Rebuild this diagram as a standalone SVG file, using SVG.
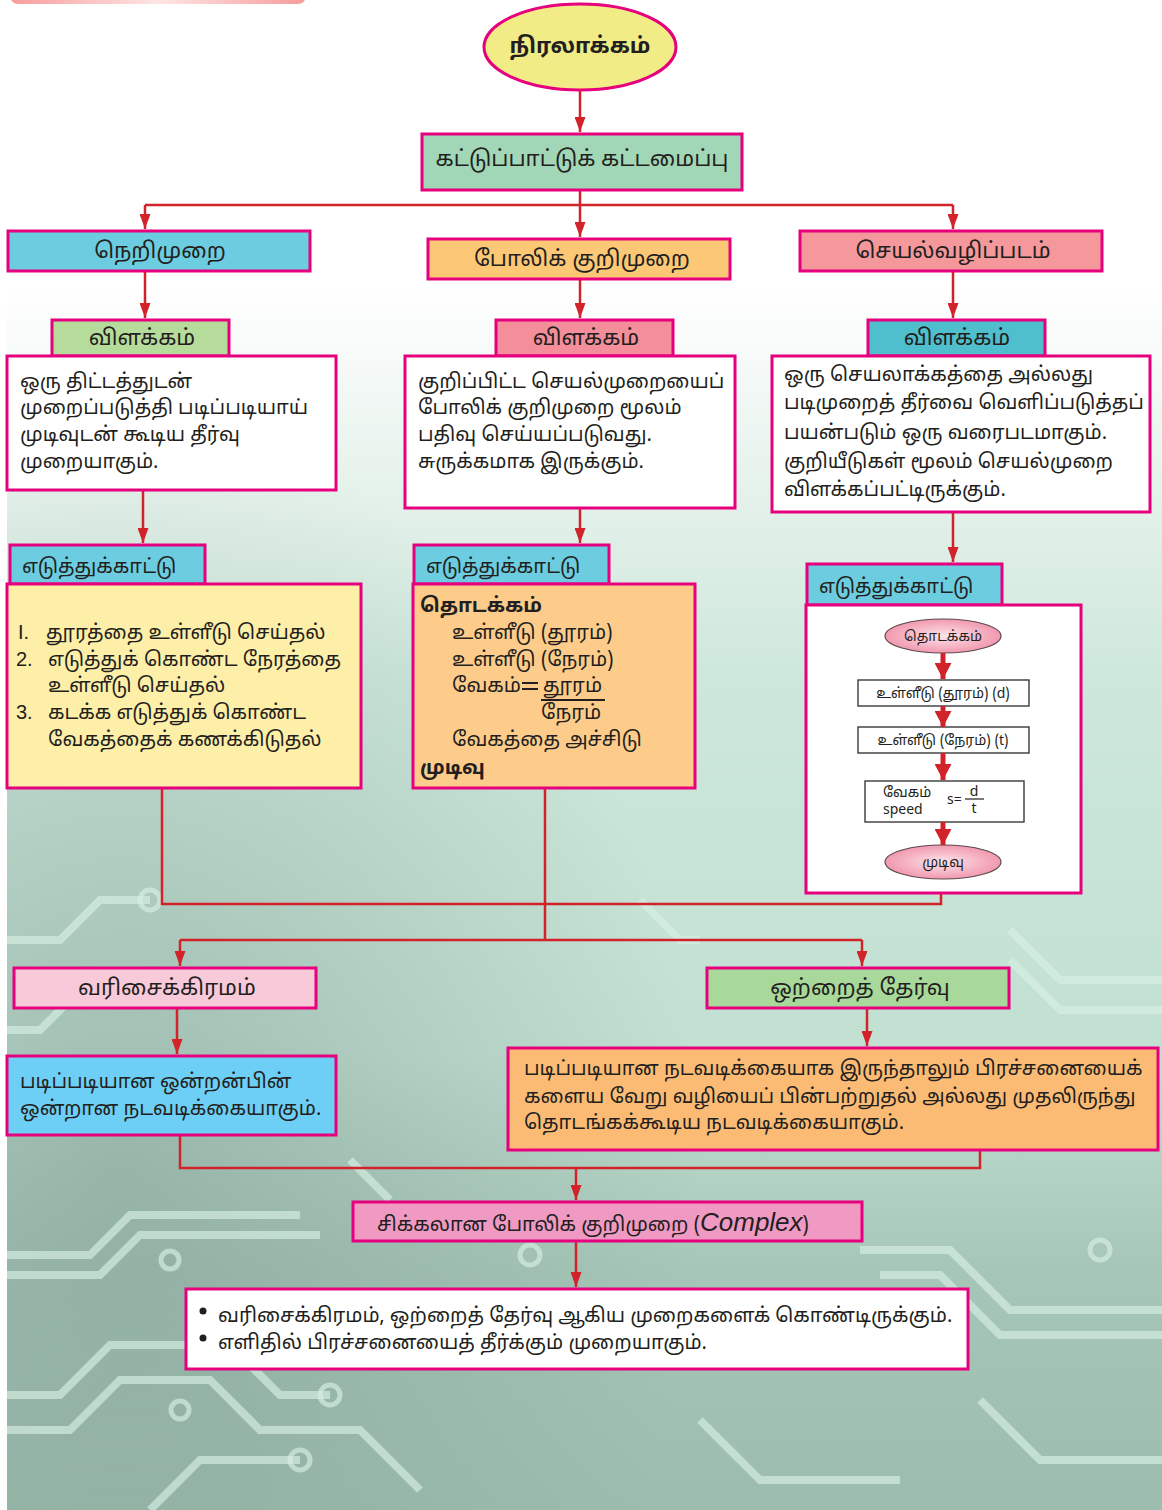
<svg xmlns="http://www.w3.org/2000/svg" width="1162" height="1510" viewBox="0 0 1162 1510">
  <defs>
    <linearGradient id="bg" x1="0" y1="0" x2="0" y2="1">
      <stop offset="0" stop-color="#ffffff"/>
      <stop offset="0.19" stop-color="#ffffff"/>
      <stop offset="0.32" stop-color="#e6f2ec"/>
      <stop offset="0.45" stop-color="#cde7db"/>
      <stop offset="0.7" stop-color="#c1e0d2"/>
      <stop offset="0.84" stop-color="#a6c6b8"/>
      <stop offset="1" stop-color="#9cbdae"/>
    </linearGradient>
    <radialGradient id="shade" cx="0.1" cy="0.78" r="0.5">
      <stop offset="0" stop-color="#7f9c91" stop-opacity="0.55"/>
      <stop offset="1" stop-color="#7f9c91" stop-opacity="0"/>
    </radialGradient>
    <linearGradient id="topbar" x1="0" y1="0" x2="1" y2="0">
      <stop offset="0" stop-color="#f79c9c"/>
      <stop offset="0.5" stop-color="#fde6e4"/>
      <stop offset="1" stop-color="#f79c9c"/>
    </linearGradient>
    <radialGradient id="pinkOval" cx="0.5" cy="0.5" r="0.6">
      <stop offset="0" stop-color="#fde3ea"/>
      <stop offset="1" stop-color="#ef8aa3"/>
    </radialGradient>
    <marker id="arr" viewBox="0 0 10 10" refX="10" refY="5" markerUnits="userSpaceOnUse" markerWidth="15" markerHeight="11" orient="auto" preserveAspectRatio="none">
      <path d="M0,0 L10,5 L0,10 z" fill="#d2232a"/>
    </marker>
    <marker id="arrBig" viewBox="0 0 10 10" refX="10" refY="5" markerUnits="userSpaceOnUse" markerWidth="16" markerHeight="17" orient="auto" preserveAspectRatio="none">
      <path d="M0,0 L10,5 L0,10 z" fill="#d2232a"/>
    </marker>
  </defs>
  <style>
    .box { stroke:#e6007e; stroke-width:3; }
    .thin { stroke:#3a3a3a; stroke-width:1.4; fill:#ffffff; }
    .t { font-family:"Noto Sans Tamil","Liberation Sans",sans-serif; fill:#231f20; font-size:20px; }
    .n { font-family:"Liberation Sans",sans-serif; fill:#231f20; font-size:20px; }
    .h { font-family:"Noto Sans Tamil","Liberation Sans",sans-serif; fill:#231f20; font-size:22px; text-anchor:middle; dominant-baseline:central; }
    .b { font-weight:bold; }
    .s { font-family:"Noto Sans Tamil","Liberation Sans",sans-serif; fill:#231f20; font-size:14px; }
    .link { stroke:#d2232a; stroke-width:2.5; fill:none; }
    .flow { stroke:#d2232a; stroke-width:5; fill:none; }
    .trace { stroke:#d7efe3; stroke-width:8; fill:none; stroke-opacity:0.65; }
    .pad { fill:none; stroke:#d7efe3; stroke-width:5; stroke-opacity:0.65; }
  </style>

  <!-- backdrop with circuit-board traces -->
  <rect x="0" y="0" width="1162" height="1510" fill="#ffffff"/>
  <rect x="7" y="0" width="1155" height="1510" fill="url(#bg)"/>
  <rect x="7" y="0" width="1155" height="1510" fill="url(#shade)"/>
  <g class="traces">
    <path class="trace" d="M7 1395 H60 L110 1345 H230 L280 1395 H330"/>
    <path class="trace" d="M7 1430 H70 L120 1380 H210 L260 1430 H360 L420 1490"/>
    <path class="trace" d="M150 1510 L200 1460 H300"/>
    <path class="trace" d="M7 1255 H90 L130 1215 H300"/>
    <path class="trace" d="M7 1275 H100 L140 1235 H320"/>
    <path class="trace" d="M860 1250 H950 L1010 1310 H1162"/>
    <path class="trace" d="M880 1275 H940 L1000 1335 H1162"/>
    <path class="trace" d="M980 1400 L1040 1460 H1162"/>
    <path class="trace" d="M700 1420 L760 1480 H900"/>
    <path class="trace" d="M7 940 H60 L100 900 H150"/>
    <path class="trace" d="M7 1030 H40 L80 990"/>
    <path class="trace" d="M1010 930 L1060 980 H1162"/>
    <path class="trace" d="M1010 960 L1060 1010 H1162"/>
    <path class="trace" d="M350 1160 L390 1200"/>
    <path class="trace" d="M640 900 L680 940 H700"/>
    <circle class="pad" cx="330" cy="1395" r="10"/>
    <circle class="pad" cx="150" cy="900" r="10"/>
    <circle class="pad" cx="300" cy="1460" r="10"/>
    <circle class="pad" cx="180" cy="1410" r="9"/>
    <circle class="pad" cx="1100" cy="1250" r="10"/>
    <circle class="pad" cx="530" cy="1255" r="10"/>
    <circle class="pad" cx="170" cy="1260" r="9"/>
  </g>
  <rect x="10" y="-12" width="296" height="16" rx="8" fill="url(#topbar)"/>

  <!-- connectors -->
  <g id="connectors">
    <path class="link" d="M580 90 V132" marker-end="url(#arr)"/>
    <path class="link" d="M580 190 V237" marker-end="url(#arr)"/>
    <path class="link" d="M145 205 H953"/>
    <path class="link" d="M145 205 V229" marker-end="url(#arr)"/>
    <path class="link" d="M953 205 V229" marker-end="url(#arr)"/>
    <path class="link" d="M145 271 V318" marker-end="url(#arr)"/>
    <path class="link" d="M580 279 V318" marker-end="url(#arr)"/>
    <path class="link" d="M953 271 V318" marker-end="url(#arr)"/>
    <path class="link" d="M143 490 V543" marker-end="url(#arr)"/>
    <path class="link" d="M580 508 V543" marker-end="url(#arr)"/>
    <path class="link" d="M953 512 V562" marker-end="url(#arr)"/>
    <path class="link" d="M162 788 V904 H941 V893"/>
    <path class="link" d="M545 788 V940"/>
    <path class="link" d="M180 940 H862"/>
    <path class="link" d="M180 940 V966" marker-end="url(#arr)"/>
    <path class="link" d="M862 940 V966" marker-end="url(#arr)"/>
    <path class="link" d="M177 1008 V1054" marker-end="url(#arr)"/>
    <path class="link" d="M867 1008 V1046" marker-end="url(#arr)"/>
    <path class="link" d="M180 1135 V1168 H980 V1150"/>
    <path class="link" d="M576 1168 V1200" marker-end="url(#arr)"/>
    <path class="link" d="M576 1241 V1287" marker-end="url(#arr)"/>
  </g>

  <!-- start oval -->
  <g id="start">
    <ellipse cx="580" cy="47" rx="96" ry="43" fill="#f1ec86" class="box" stroke-width="2.5"/>
    <text x="580" y="47" class="h b">நிரலாக்கம்</text>
  </g>

  <g id="control">
    <rect x="422" y="134" width="320" height="56" fill="#a1d6b6" class="box"/>
    <text x="582" y="160" class="h">கட்டுப்பாட்டுக் கட்டமைப்பு</text>
  </g>

  <g id="algorithm">
    <rect x="8" y="231" width="302" height="40" fill="#6ccde0" class="box"/>
    <text x="160" y="252" class="h">நெறிமுறை</text>
  </g>
  <g id="pseudocode">
    <rect x="428" y="239" width="302" height="40" fill="#fdc876" class="box"/>
    <text x="582" y="260" class="h" font-size="20">போலிக் குறிமுறை</text>
  </g>
  <g id="flowchart">
    <rect x="800" y="231" width="302" height="40" fill="#f4989b" class="box"/>
    <text x="953" y="252" class="h">செயல்வழிப்படம்</text>
  </g>

  <g id="algo-def-title">
    <rect x="52" y="320" width="177" height="36" fill="#b6dc9c" class="box"/>
    <text x="142" y="339" class="h">விளக்கம்</text>
  </g>
  <g id="pseudo-def-title">
    <rect x="496" y="320" width="177" height="36" fill="#f38e9a" class="box"/>
    <text x="586" y="339" class="h">விளக்கம்</text>
  </g>
  <g id="flow-def-title">
    <rect x="868" y="320" width="177" height="36" fill="#4fbfcd" class="box"/>
    <text x="957" y="339" class="h">விளக்கம்</text>
  </g>

  <g id="algo-def">
    <rect x="7" y="356" width="329" height="134" fill="#ffffff" class="box"/>
    <text class="t" x="20" y="388">ஒரு திட்டத்துடன்</text>
    <text class="t" x="20" y="414">முறைப்படுத்தி படிப்படியாய்</text>
    <text class="t" x="20" y="441">முடிவுடன் கூடிய தீர்வு</text>
    <text class="t" x="20" y="468">முறையாகும்.</text>
  </g>
  <g id="pseudo-def">
    <rect x="405" y="356" width="330" height="152" fill="#ffffff" class="box"/>
    <text class="t" x="418" y="388">குறிப்பிட்ட செயல்முறையைப்</text>
    <text class="t" x="418" y="414">போலிக் குறிமுறை மூலம்</text>
    <text class="t" x="418" y="441">பதிவு செய்யப்படுவது.</text>
    <text class="t" x="418" y="468">சுருக்கமாக இருக்கும்.</text>
  </g>
  <g id="flow-def">
    <rect x="772" y="356" width="378" height="156" fill="#ffffff" class="box"/>
    <text class="t" x="784" y="381">ஒரு செயலாக்கத்தை அல்லது</text>
    <text class="t" x="784" y="409">படிமுறைத் தீர்வை வெளிப்படுத்தப்</text>
    <text class="t" x="784" y="439">பயன்படும் ஒரு வரைபடமாகும்.</text>
    <text class="t" x="784" y="468">குறியீடுகள் மூலம் செயல்முறை</text>
    <text class="t" x="784" y="496">விளக்கப்பட்டிருக்கும்.</text>
  </g>

  <g id="algo-ex-title">
    <rect x="10" y="545" width="195" height="39" fill="#6ccde0" class="box"/>
    <text class="t" x="22" y="573" font-size="21">எடுத்துக்காட்டு</text>
  </g>
  <g id="pseudo-ex-title">
    <rect x="414" y="545" width="195" height="39" fill="#6ccde0" class="box"/>
    <text class="t" x="426" y="573" font-size="21">எடுத்துக்காட்டு</text>
  </g>
  <g id="flow-ex-title">
    <rect x="807" y="564" width="195" height="41" fill="#6ccde0" class="box"/>
    <text class="t" x="819" y="593" font-size="21">எடுத்துக்காட்டு</text>
  </g>

  <g id="algo-ex">
    <rect x="7" y="584" width="354" height="204" fill="#fdeea8" class="box"/>
    <text class="n" x="18" y="639">I.</text>
    <text class="t" x="46" y="639">தூரத்தை உள்ளீடு செய்தல்</text>
    <text class="n" x="16" y="666">2.</text>
    <text class="t" x="48" y="666">எடுத்துக் கொண்ட நேரத்தை</text>
    <text class="t" x="48" y="692">உள்ளீடு செய்தல்</text>
    <text class="n" x="16" y="719">3.</text>
    <text class="t" x="48" y="719">கடக்க எடுத்துக் கொண்ட</text>
    <text class="t" x="48" y="746">வேகத்தைக் கணக்கிடுதல்</text>
  </g>

  <g id="pseudo-ex">
    <rect x="413" y="584" width="282" height="204" fill="#fdcc8a" class="box"/>
    <text class="t b" x="420" y="612">தொடக்கம்</text>
    <text class="t" x="452" y="639">உள்ளீடு (தூரம்)</text>
    <text class="t" x="452" y="666">உள்ளீடு (நேரம்)</text>
    <text class="t" x="452" y="692">வேகம்</text>
    <line x1="522" y1="683" x2="538" y2="683" stroke="#231f20" stroke-width="2"/>
    <line x1="522" y1="689" x2="538" y2="689" stroke="#231f20" stroke-width="2"/>
    <text class="t" x="543" y="692">தூரம்</text>
    <line x1="541" y1="700" x2="605" y2="700" stroke="#231f20" stroke-width="1.8"/>
    <text class="t" x="541" y="719">நேரம்</text>
    <text class="t" x="452" y="746">வேகத்தை அச்சிடு</text>
    <text class="t b" x="420" y="774">முடிவு</text>
  </g>

  <g id="flow-ex">
    <rect x="806" y="605" width="275" height="288" fill="#ffffff" class="box"/>
    <g id="flow-start">
      <ellipse cx="943" cy="636" rx="58" ry="17" fill="url(#pinkOval)" stroke="#5a4a4e" stroke-width="1.2"/>
      <text class="s" x="943" y="641" text-anchor="middle">தொடக்கம்</text>
    </g>
    <g id="flow-in-d">
      <rect x="858" y="680" width="171" height="26" class="thin"/>
      <text class="s" x="943" y="698" text-anchor="middle">உள்ளீடு (தூரம்) (d)</text>
    </g>
    <g id="flow-in-t">
      <rect x="858" y="727" width="171" height="26" class="thin"/>
      <text class="s" x="943" y="745" text-anchor="middle">உள்ளீடு (நேரம்) (t)</text>
    </g>
    <g id="flow-speed">
      <rect x="865" y="781" width="159" height="41" class="thin"/>
      <text class="s" x="883" y="797" font-size="12">வேகம்</text>
      <text class="s" x="883" y="814" font-size="15">speed</text>
      <text class="s" x="947" y="804" font-size="14">s=</text>
      <text class="s" x="974" y="796" font-size="15" text-anchor="middle">d</text>
      <line x1="965" y1="799" x2="984" y2="799" stroke="#231f20" stroke-width="1.2"/>
      <text class="s" x="974" y="813" font-size="14" text-anchor="middle">t</text>
    </g>
    <g id="flow-end">
      <ellipse cx="943" cy="862" rx="58" ry="17" fill="url(#pinkOval)" stroke="#5a4a4e" stroke-width="1.2"/>
      <text class="s" x="943" y="867" text-anchor="middle">முடிவு</text>
    </g>
    <g id="flow-arrows">
      <path class="flow" d="M943 653 V679" marker-end="url(#arrBig)"/>
      <path class="flow" d="M943 706 V727" marker-end="url(#arrBig)"/>
      <path class="flow" d="M943 753 V780" marker-end="url(#arrBig)"/>
      <path class="flow" d="M943 822 V845" marker-end="url(#arrBig)"/>
    </g>
  </g>

  <g id="sequence">
    <rect x="14" y="968" width="302" height="40" fill="#f8c9d9" class="box"/>
    <text x="167" y="989" class="h">வரிசைக்கிரமம்</text>
  </g>
  <g id="selection">
    <rect x="707" y="968" width="302" height="40" fill="#a9d89b" class="box"/>
    <text x="860" y="989" class="h">ஒற்றைத் தேர்வு</text>
  </g>

  <g id="sequence-def">
    <rect x="7" y="1056" width="329" height="79" fill="#6dcff6" class="box"/>
    <text class="t" x="20" y="1088">படிப்படியான ஒன்றன்பின்</text>
    <text class="t" x="20" y="1115">ஒன்றான நடவடிக்கையாகும்.</text>
  </g>
  <g id="selection-def">
    <rect x="508" y="1048" width="650" height="102" fill="#fbbb74" class="box"/>
    <text class="t" x="524" y="1075">படிப்படியான நடவடிக்கையாக இருந்தாலும் பிரச்சனையைக்</text>
    <text class="t" x="524" y="1103">களைய வேறு வழியைப் பின்பற்றுதல் அல்லது முதலிருந்து</text>
    <text class="t" x="524" y="1129">தொடங்கக்கூடிய நடவடிக்கையாகும்.</text>
  </g>

  <g id="complex">
    <rect x="353" y="1202" width="509" height="39" fill="#f09ac3" class="box"/>
    <text class="t" x="377" y="1231" font-size="25">சிக்கலான போலிக் குறிமுறை (<tspan font-style="italic" font-size="26" font-family="Liberation Sans, sans-serif">Complex</tspan>)</text>
  </g>

  <g id="complex-def">
    <rect x="186" y="1289" width="782" height="80" fill="#ffffff" class="box"/>
    <circle cx="203" cy="1311" r="3.5" fill="#231f20"/>
    <text class="t" x="218" y="1322">வரிசைக்கிரமம், ஒற்றைத் தேர்வு ஆகிய முறைகளைக் கொண்டிருக்கும்.</text>
    <circle cx="203" cy="1338" r="3.5" fill="#231f20"/>
    <text class="t" x="218" y="1349">எளிதில் பிரச்சனையைத் தீர்க்கும் முறையாகும்.</text>
  </g>
</svg>
